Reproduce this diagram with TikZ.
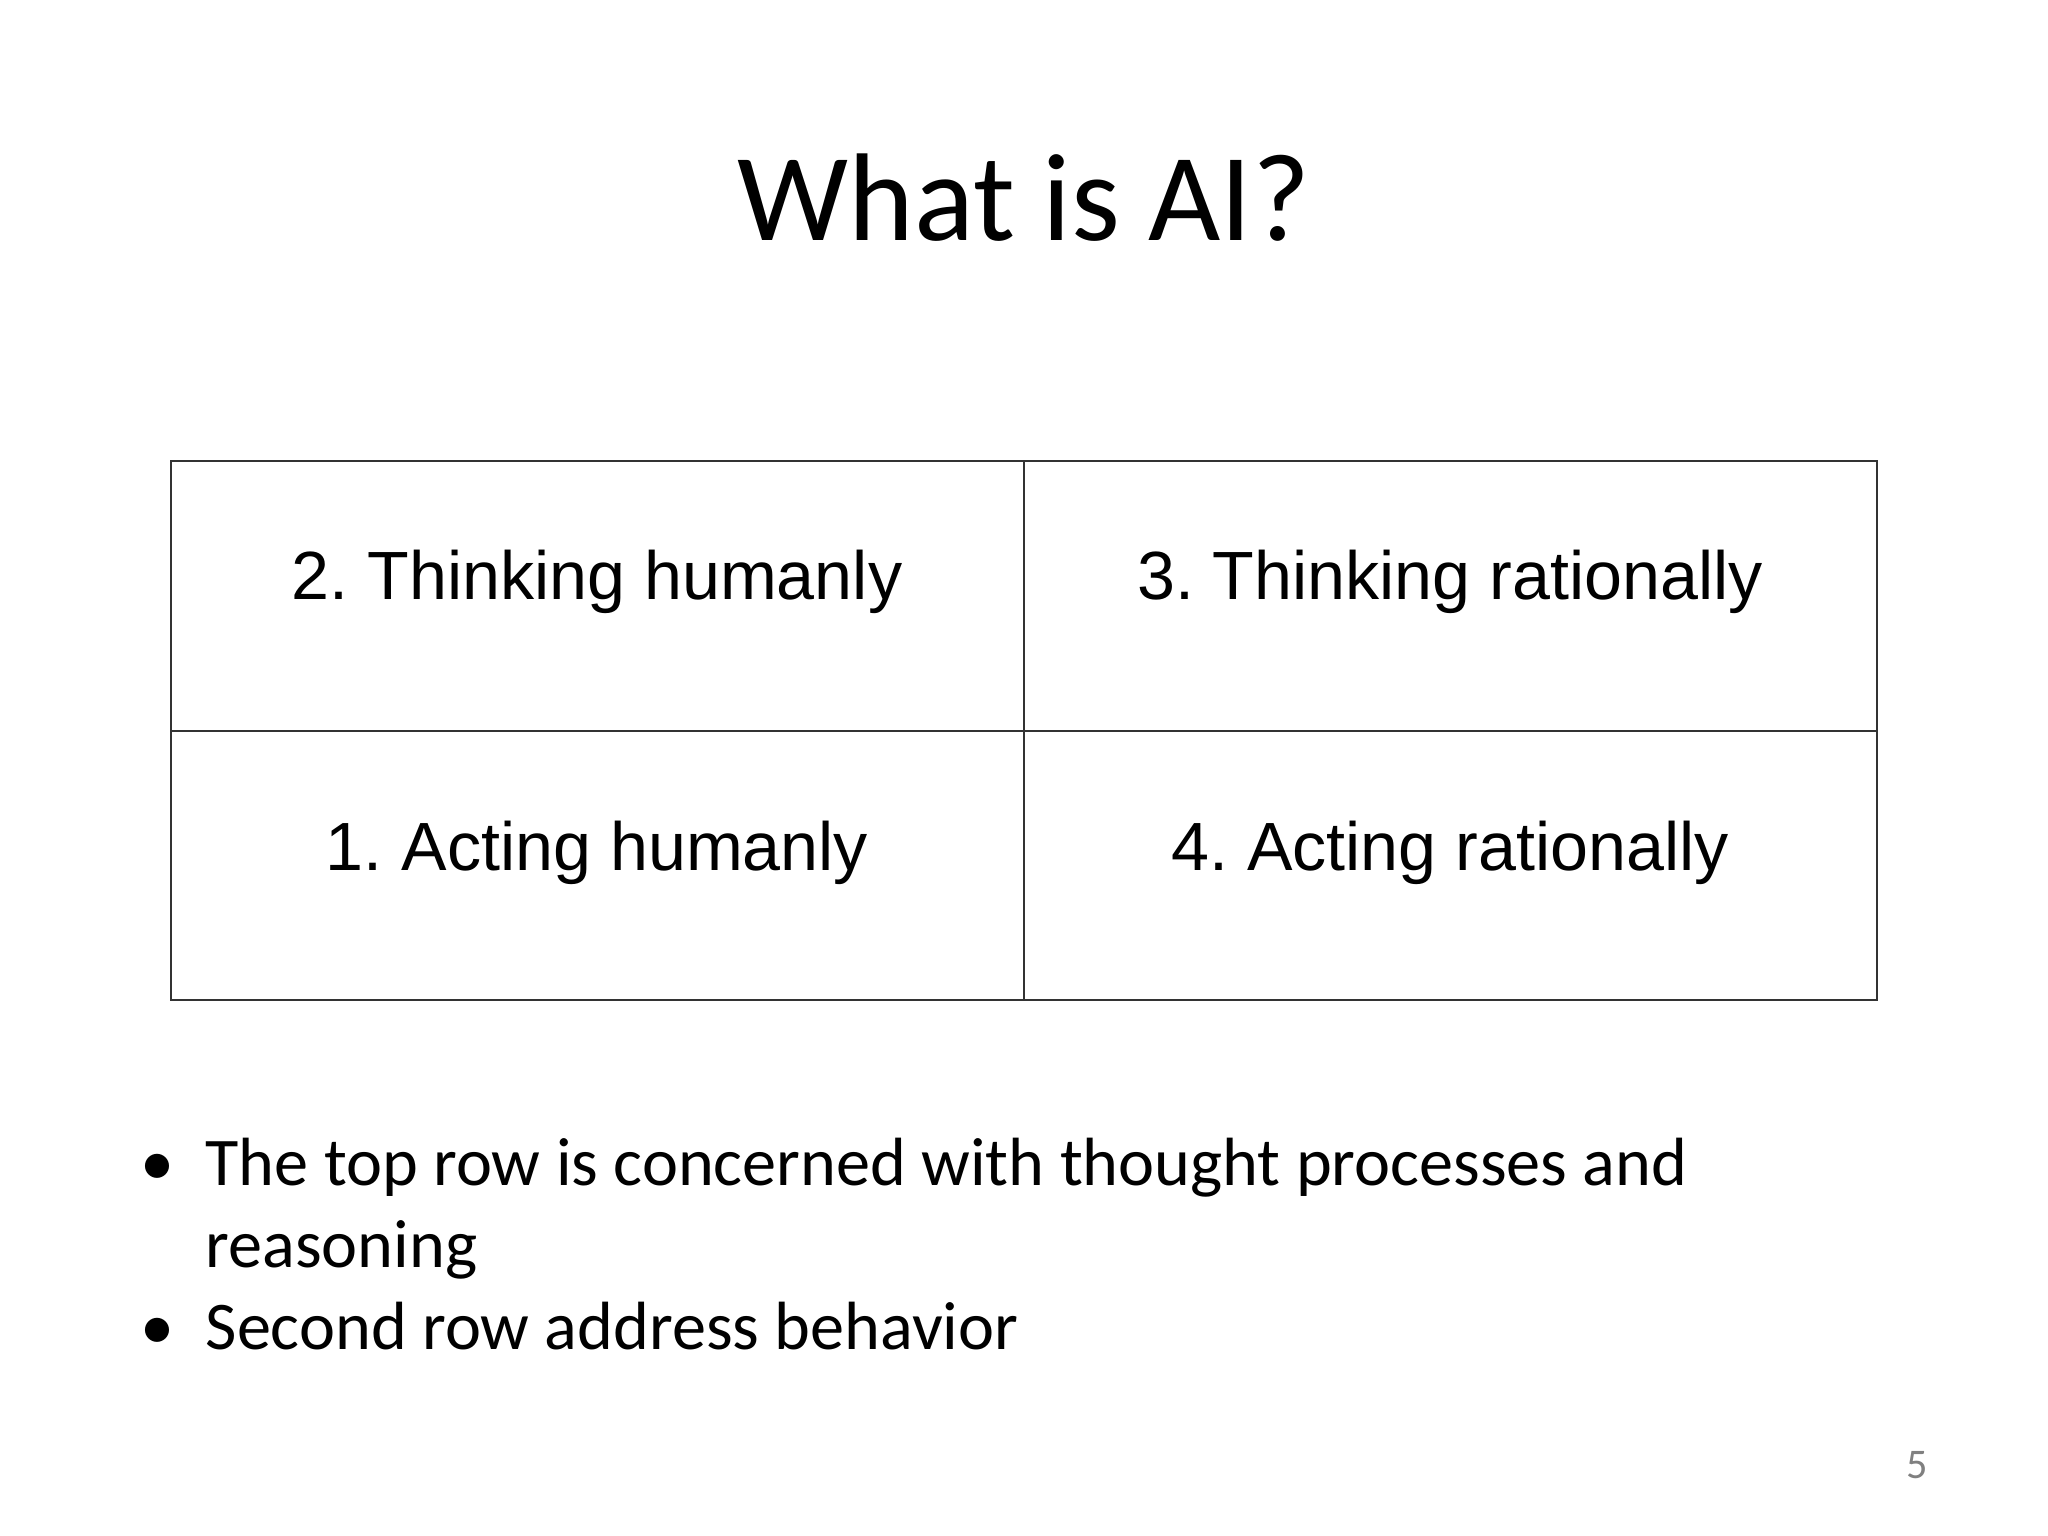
\documentclass[tikz,border=0pt]{standalone}
\usepackage{fontspec}
\setmainfont{Carlito}
\newfontfamily\arialf{Liberation Sans}
\frenchspacing
\begin{document}
\begin{tikzpicture}[x=0.01cm,y=-0.01cm,
  celltext/.style={font=\arialf\fontsize{19.4}{24}\selectfont,anchor=center},
  bul/.style={font=\fontsize{19.4}{24}\selectfont,anchor=base west,inner sep=0pt}]
\useasboundingbox (0,0) rectangle (2048,1536);
\node[font=\fontsize{35.5}{42}\selectfont,anchor=base] (title) at (1024,240) {What is AI?};
\draw[draw=black!80,line width=0.6pt] (171,461) rectangle (1877,1000);
\coordinate (tm) at (1024,461); \coordinate (bm) at (1024,1000);
\coordinate (ml) at (171,731); \coordinate (mr) at (1877,731);
\draw[draw=black!80,line width=0.6pt] (tm) -- (bm);
\draw[draw=black!80,line width=0.6pt] (ml) -- (mr);
\node[celltext] (c2) at (597,582) {2. Thinking humanly};
\node[celltext] (c3) at (1450,582) {3. Thinking rationally};
\node[celltext] (c1) at (597,853) {1. Acting humanly};
\node[celltext] (c4) at (1450,853) {4. Acting rationally};
\node[bul] (b1) at (140,1185) {\textbullet};
\node[bul] (t1) at (205,1185) {The top row is concerned with thought processes and};
\node[bul] (t1b) at (205,1267) {reasoning};
\node[bul] (b2) at (140,1349) {\textbullet};
\node[bul] (t2) at (205,1349) {Second row address behavior};
\node[font=\fontsize{12}{14}\selectfont,text=black!50,anchor=base] (pn) at (1917,1478) {5};
\end{tikzpicture}
\end{document}
